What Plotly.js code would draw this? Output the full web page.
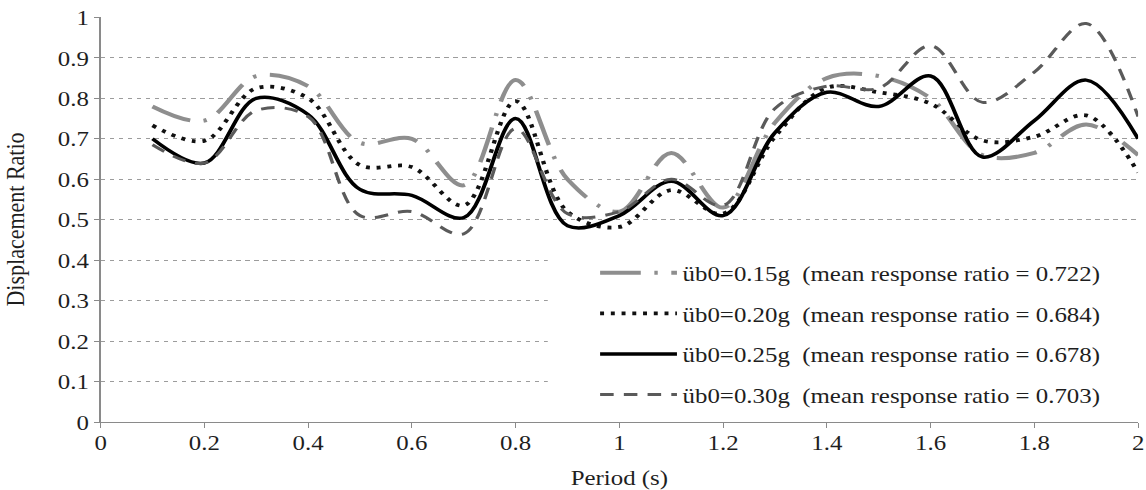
<!DOCTYPE html>
<html><head><meta charset="utf-8">
<script src="https://cdn.plot.ly/plotly-3.0.1.min.js"></script>
<style>
html,body{margin:0;padding:0;background:#fff;overflow:hidden;}
#wrap{width:1146px;height:490px;overflow:hidden;}
#chart{width:1014px;height:490px;transform:scaleX(1.1302);transform-origin:0 0;}
</style></head><body>
<div id="wrap"><div id="chart"></div></div>
<script>
const periods = [0.1,0.2,0.3,0.4,0.5,0.6,0.7,0.8,0.9,1.0,1.1,1.2,1.3,1.4,1.5,1.6,1.7,1.8,1.9,2.0];
const r015 = [0.78,0.745,0.855,0.83,0.69,0.70,0.585,0.845,0.60,0.52,0.665,0.53,0.74,0.85,0.855,0.80,0.66,0.665,0.735,0.66];
const r020 = [0.733,0.695,0.825,0.80,0.635,0.63,0.535,0.793,0.52,0.482,0.573,0.515,0.705,0.826,0.815,0.787,0.696,0.705,0.758,0.617];
const r025 = [0.70,0.64,0.80,0.76,0.575,0.56,0.505,0.75,0.485,0.51,0.595,0.51,0.715,0.815,0.78,0.855,0.655,0.745,0.845,0.70];
const r030 = [0.685,0.64,0.77,0.755,0.51,0.52,0.465,0.725,0.515,0.52,0.60,0.535,0.775,0.83,0.825,0.93,0.79,0.865,0.985,0.755];
const seriesNames = [
  "üb0=0.15g \u00a0(mean response ratio = 0.722)",
  "üb0=0.20g \u00a0(mean response ratio = 0.684)",
  "üb0=0.25g \u00a0(mean response ratio = 0.678)",
  "üb0=0.30g \u00a0(mean response ratio = 0.703)"
];
const xTickVals = [0,0.2,0.4,0.6,0.8,1,1.2,1.4,1.6,1.8,2];
const xTickText = ["0","0.2","0.4","0.6","0.8","1","1.2","1.4","1.6","1.8","2"];
const yTickVals = [0,0.1,0.2,0.3,0.4,0.5,0.6,0.7,0.8,0.9,1];
const yTickText = ["0","0.1","0.2","0.3","0.4","0.5","0.6","0.7","0.8","0.9","1"];

const FONT = "Liberation Serif, 'Times New Roman', serif";
const styles = [
  {color:'#8e8e8e', width:4, dash:'36px,12px,3px,12px'},
  {color:'#111111', width:3.8, dash:'3.5px,6px'},
  {color:'#000000', width:3.5, dash:'solid'},
  {color:'#5a5a5a', width:3, dash:'12px,9px'}
];
const values = [r015, r020, r025, r030];
const traces = values.map((v,i)=>({
  type:'scatter', mode:'lines', x:periods, y:v, name:seriesNames[i],
  legendgroup:'g'+i,
  line:{color:styles[i].color, width:styles[i].width, dash:styles[i].dash, shape:'spline', smoothing:1},
  hoverinfo:'skip'
}));

const layout = {
  width:1014, height:490,
  margin:{l:89, r:7, t:17, b:68},
  paper_bgcolor:'#ffffff', plot_bgcolor:'#ffffff',
  font:{family:FONT, size:22, color:'#1e1e1e'},
  showlegend:true,
  legend:{x:0.476, xanchor:'left', y:0.42, yanchor:'top', bgcolor:'rgba(0,0,0,0)', borderwidth:0,
          itemwidth:68, tracegroupgap:9, traceorder:'grouped',
          font:{family:FONT, size:22, color:'#1e1e1e'}},
  xaxis:{range:[0,2], tickmode:'array', tickvals:xTickVals, ticktext:xTickText,
         showline:true, linecolor:'#8a8a8a', linewidth:1, ticks:'outside', ticklen:5, tickcolor:'#8a8a8a',
         ticklabelstandoff:-4,
         showgrid:false, zeroline:false,
         title:{text:'Period (s)', font:{family:FONT, size:22, color:'#1e1e1e'}, standoff:16}},
  yaxis:{range:[0,1.001], tickmode:'array', tickvals:yTickVals, ticktext:yTickText,
         showline:true, linecolor:'#8a8a8a', linewidth:1, ticks:'outside', ticklen:5, tickcolor:'#8a8a8a',
         showgrid:true, gridcolor:'#9c9c9c', gridwidth:1, griddash:'4px,4px', zeroline:false,
         title:{text:'Displacement Ratio', font:{family:FONT, size:22, color:'#1e1e1e'}, standoff:23}},
  shapes:[{type:'rect', xref:'x', yref:'y', x0:0.862, x1:2.05, y0:0.05, y1:0.45,
           fillcolor:'#ffffff', line:{width:0}, layer:'between'}]
};
Plotly.newPlot('chart', traces, layout, {displayModeBar:false, staticPlot:true});
</script>
</body></html>
